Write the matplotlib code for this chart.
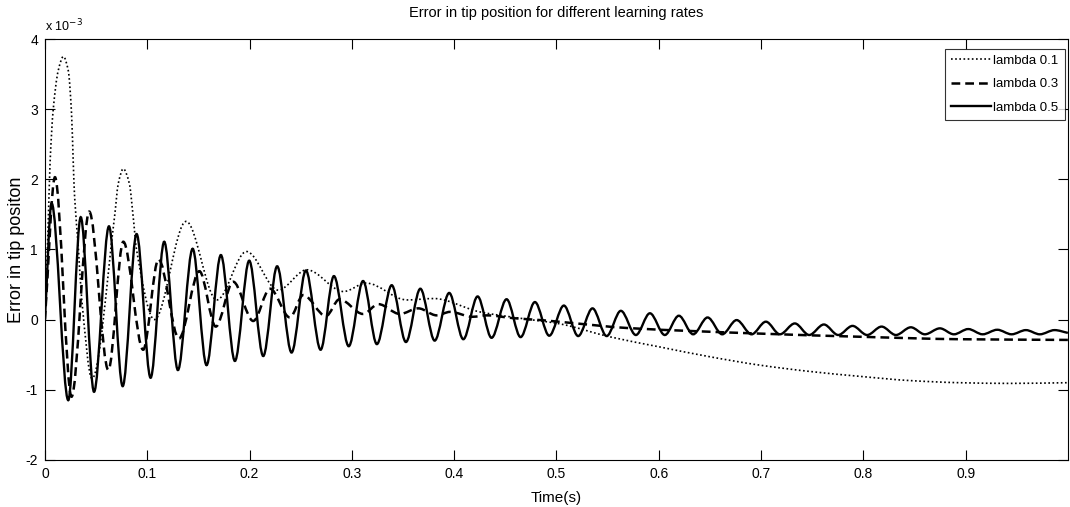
import matplotlib.pyplot as plt
from matplotlib.path import Path
from matplotlib.patches import PathPatch
from matplotlib.lines import Line2D

plt.rcParams['font.family'] = ['Liberation Sans', 'DejaVu Sans']
plt.rcParams['axes.unicode_minus'] = False

# values, error in units of 1e-3
t_01 = [0.0, 0.003, 0.005, 0.008, 0.013, 0.018, 0.0228, 0.026, 0.0277, 0.029, 0.0326,
        0.0358, 0.046, 0.068, 0.0717, 0.0766, 0.0825, 0.0863, 0.0896, 0.107, 0.138,
        0.168, 0.197, 0.228, 0.256, 0.292, 0.314, 0.354, 0.38, 0.425, 0.464, 0.503,
        0.552, 0.601, 0.650, 0.699, 0.748, 0.797, 0.846, 0.894, 0.943, 1.0]
err_01 = [0.0, 1.27, 2.23, 2.98, 3.55, 3.75, 3.55, 2.94, 2.23, 1.75, 1.04,
          0.32, -0.84, 1.46, 1.94, 2.15, 1.94, 1.46, 0.99, 0.0, 1.40,
          0.28, 0.97, 0.42, 0.71, 0.40, 0.52, 0.28, 0.30, 0.11, 0.02, -0.06,
          -0.245, -0.39, -0.53, -0.65, -0.74, -0.81, -0.87, -0.90, -0.91, -0.90]

t_03 = [0.0, 0.0098, 0.026, 0.0433, 0.062, 0.0766, 0.096, 0.111, 0.131, 0.151,
        0.167, 0.184, 0.2036, 0.22, 0.2395, 0.2525, 0.2747, 0.288, 0.311, 0.326,
        0.347, 0.365, 0.383, 0.396, 0.418, 0.432, 0.458, 0.487, 0.516, 0.569,
        0.699, 0.797, 0.894, 1.0]
err_03 = [0.0, 2.03, -1.10, 1.54, -0.72, 1.11, -0.43, 0.86, -0.27, 0.69,
          -0.10, 0.54, -0.02, 0.44, 0.03, 0.35, 0.05, 0.29, 0.08, 0.22,
          0.08, 0.16, 0.06, 0.11, 0.04, 0.06, 0.02, -0.01, -0.05, -0.12,
          -0.20, -0.245, -0.28, -0.29]

t_05 = [0.0, 0.0065, 0.0228, 0.035, 0.048, 0.0626, 0.076, 0.0896, 0.1033, 0.1166,
        0.130, 0.1444, 0.158, 0.172, 0.1857, 0.1997, 0.2134, 0.227, 0.2411, 0.2551,
        0.2695, 0.2825, 0.297, 0.311, 0.3245, 0.339, 0.3529, 0.367, 0.381, 0.3952,
        0.409, 0.423, 0.4366, 0.4513, 0.465, 0.479, 0.493, 0.5073, 0.5213, 0.5353,
        0.5491, 0.563, 0.5777, 0.5914, 0.606, 0.6197, 0.6337, 0.6478, 0.6621, 0.6762,
        0.6908, 0.7048, 0.7185, 0.7331, 0.7471, 0.7615, 0.7755, 0.7895, 0.8038, 0.8179,
        0.8319, 0.8465, 0.8602, 0.8749, 0.8886, 0.9026, 0.9167, 0.931, 0.945, 0.959,
        0.9726, 0.987, 1.0]
err_05 = [0.0, 1.66, -1.15, 1.46, -1.03, 1.33, -0.95, 1.22, -0.83, 1.11,
          -0.72, 1.01, -0.65, 0.92, -0.59, 0.84, -0.52, 0.76, -0.47, 0.70,
          -0.43, 0.62, -0.38, 0.55, -0.35, 0.49, -0.32, 0.44, -0.30, 0.38,
          -0.28, 0.33, -0.26, 0.29, -0.25, 0.25, -0.23, 0.20, -0.235, 0.16,
          -0.235, 0.125, -0.22, 0.09, -0.22, 0.055, -0.21, 0.03, -0.21, -0.007,
          -0.21, -0.03, -0.21, -0.055, -0.22, -0.07, -0.22, -0.09, -0.22, -0.10,
          -0.22, -0.11, -0.21, -0.125, -0.21, -0.135, -0.21, -0.145, -0.21, -0.15,
          -0.21, -0.15, -0.19]

labels = ['lambda 0.1', 'lambda 0.3', 'lambda 0.5']
x_ticks = [0, 0.1, 0.2, 0.3, 0.4, 0.5, 0.6, 0.7, 0.8, 0.9]
x_labels = ['0', '0.1', '0.2', '0.3', '0.4', '0.5', '0.6', '0.7', '0.8', '0.9']
y_ticks = [-2, -1, 0, 1, 2, 3, 4]


def smooth_path(t, v):
    # bezier path through the read points, flat at peaks/troughs
    n = len(t)
    d = [(v[i + 1] - v[i]) / (t[i + 1] - t[i]) for i in range(n - 1)]
    slopes = [d[0]]
    for i in range(1, n - 1):
        if d[i - 1] * d[i] <= 0:
            slopes.append(0.0)
        else:
            slopes.append(2 * d[i - 1] * d[i] / (d[i - 1] + d[i]))
    slopes.append(d[-1])
    verts = [(t[0], v[0])]
    codes = [Path.MOVETO]
    for i in range(n - 1):
        h = t[i + 1] - t[i]
        verts += [(t[i] + h / 3, v[i] + slopes[i] * h / 3),
                  (t[i + 1] - h / 3, v[i + 1] - slopes[i + 1] * h / 3),
                  (t[i + 1], v[i + 1])]
        codes += [Path.CURVE4] * 3
    return Path(verts, codes)


fig = plt.figure(figsize=(10.7, 5.07), dpi=100)
ax = fig.add_axes([0.042, 0.093, 0.956, 0.83])

styles = [dict(linestyle=(0, (1, 1.5)), linewidth=1.2),
          dict(linestyle=(0, (3.5, 2)), linewidth=1.8),
          dict(linestyle='-', linewidth=1.7)]
handles = []
for (t, v), st, lab in zip([(t_01, err_01), (t_03, err_03), (t_05, err_05)], styles, labels):
    ax.add_patch(PathPatch(smooth_path(t, v), fill=False, edgecolor='black',
                           transform=ax.transData, **st))
    handles.append(Line2D([], [], color='black', **st, label=lab))

ax.set_xlim(0, 1)
ax.set_ylim(-2, 4)
ax.set_xticks(x_ticks)
ax.set_xticklabels(x_labels)
ax.set_yticks(y_ticks)
ax.tick_params(direction='in', length=7, width=0.8, top=True, right=True,
               labelsize=10, colors='black', pad=5)
for sp in ax.spines.values():
    sp.set_linewidth(0.8)

ax.set_title('Error in tip position for different learning rates', fontsize=10.5, pad=16)
ax.set_xlabel('Time(s)', fontsize=11, labelpad=7)
ax.set_ylabel('Error in tip positon', fontsize=13, labelpad=0)
ax.text(0.0, 1.012, r'x 10$^{-3}$', transform=ax.transAxes, fontsize=9, va='bottom', ha='left')

leg = ax.legend(handles=handles, loc='upper right', fontsize=9.5, frameon=True, fancybox=False,
                edgecolor='black', handlelength=3.0, handletextpad=0.2,
                borderpad=0.45, labelspacing=0.85, borderaxespad=0.25,
                bbox_to_anchor=(1.0, 0.985))
leg.get_frame().set_linewidth(0.8)

fig.savefig('out.png', dpi=100)
